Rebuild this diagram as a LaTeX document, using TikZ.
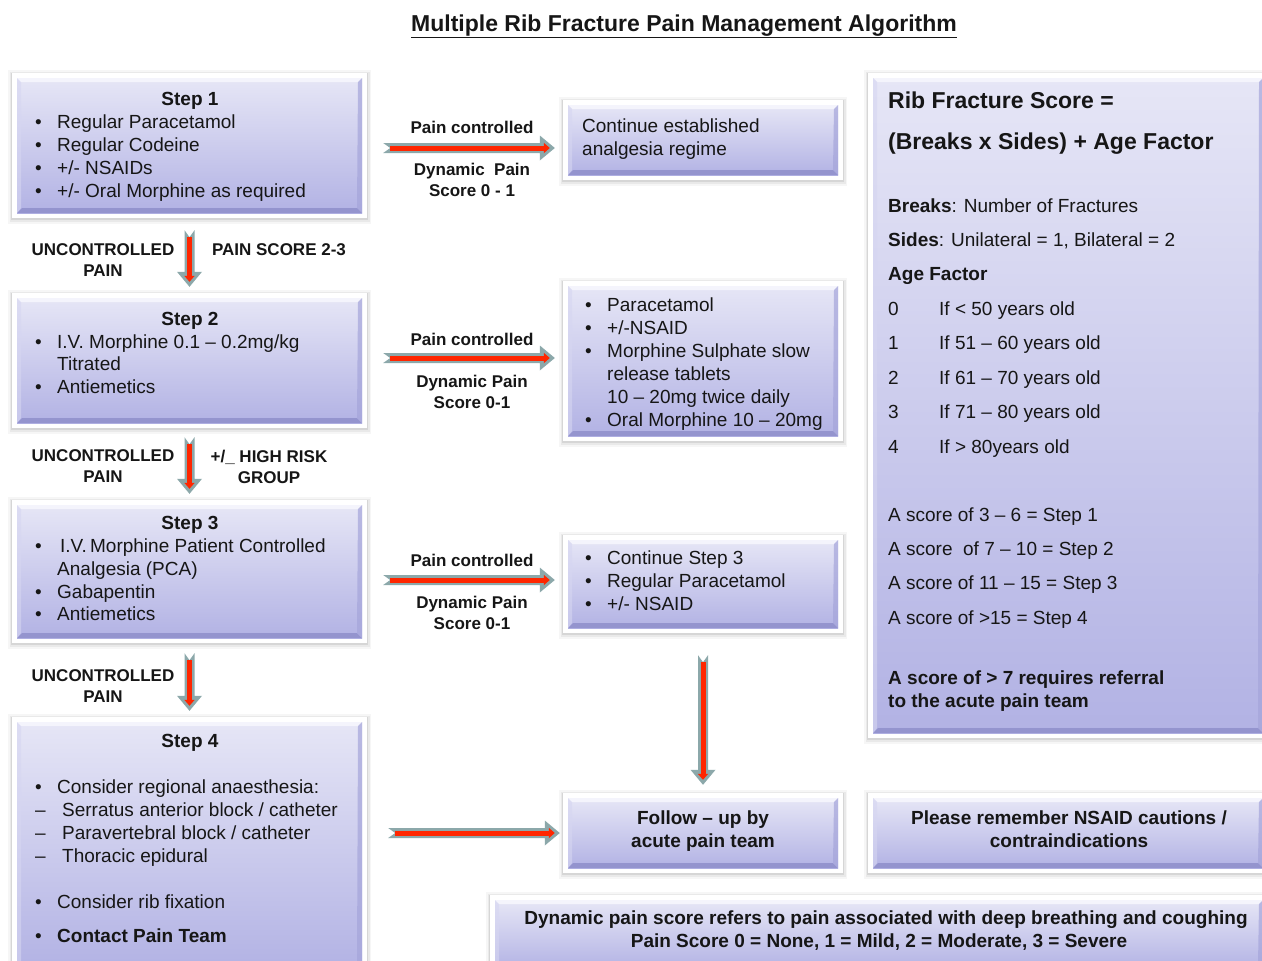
\documentclass[tikz,border=0pt]{standalone}
\usepackage{fontspec}
\setmainfont{Liberation Sans}
\usetikzlibrary{calc,arrows.meta}
\definecolor{boxtop}{RGB}{230,230,246}
\definecolor{boxbot}{RGB}{178,178,228}
\definecolor{edgeb}{RGB}{148,148,206}
\definecolor{edger}{RGB}{165,165,218}
\definecolor{edget}{RGB}{244,244,252}
\definecolor{edgel}{RGB}{214,214,241}
\definecolor{arrgray}{RGB}{140,168,170}
\definecolor{arrred}{RGB}{255,38,0}
\definecolor{ink}{RGB}{22,22,22}
\tikzset{
  txt/.style={inner sep=0pt, text=ink, font=\fontsize{19}{23}\selectfont, anchor=base west},
  ctxt/.style={inner sep=0pt, text=ink, font=\bfseries\fontsize{19}{23}\selectfont, anchor=base},
  big/.style={inner sep=0pt, text=ink, font=\bfseries\fontsize{23}{27}\selectfont, anchor=base west},
  lbl/.style={inner sep=0pt, text=ink, font=\bfseries\fontsize{17}{21}\selectfont, align=center},
  redline/.style={arrred, line width=5pt, -{Triangle[length=6pt,width=10pt]}}
}
% name, x1, y1, x2, y2 (outer frame, pixels, y downward)
\newcommand\bevbox[5]{%
  \fill[black,opacity=0.035] (#2-4,#3-3) rectangle (#4+4,#5+6);
  \fill[black,opacity=0.05] (#2-2.5,#3-1.5) rectangle (#4+2.5,#5+4);
  \fill[black,opacity=0.08] (#2-1,#3-0.5) rectangle (#4+1,#5+2);
  \fill[white] (#2,#3) rectangle (#4,#5);
  \shade[top color=boxtop,bottom color=boxbot] (#2+5,#3+5) rectangle (#4-5,#5-5);
  \fill[edget] (#2+5,#3+5) -- (#4-5,#3+5) -- (#4-9,#3+9) -- (#2+9,#3+9) -- cycle;
  \fill[edgeb] (#2+5,#5-5) -- (#4-5,#5-5) -- (#4-10,#5-10) -- (#2+10,#5-10) -- cycle;
  \fill[edgel,opacity=0.6] (#2+5,#3+5) -- (#2+9,#3+9) -- (#2+9,#5-10) -- (#2+5,#5-5) -- cycle;
  \fill[edger,opacity=0.7] (#4-5,#3+5) -- (#4-9,#3+9) -- (#4-10,#5-10) -- (#4-5,#5-5) -- cycle;
  \node[inner sep=0pt, minimum width=#4-#2, minimum height=#5-#3] (#1) at ({(#2+#4)/2},{(#3+#5)/2}) {};
}
% horizontal block arrow: tail, head
\newcommand\harrow[2]{%
  \fill[arrgray] ($(#1)+(0,-5)$) -- ($(#2)+(-15,-5)$) -- ($(#2)+(-15,-12.5)$) -- (#2)
    -- ($(#2)+(-15,12.5)$) -- ($(#2)+(-15,5)$) -- ($(#1)+(0,5)$) -- ($(#1)+(7,0)$) -- cycle;
  \draw[redline] ($(#1)+(7,0)$) -- ($(#2)+(-5,0)$);
}
% vertical block arrow: tail (top), head (bottom)
\newcommand\varrow[2]{%
  \fill[arrgray] ($(#1)+(-5,0)$) -- ($(#2)+(-5,-15)$) -- ($(#2)+(-12.5,-15)$) -- (#2)
    -- ($(#2)+(12.5,-15)$) -- ($(#2)+(5,-15)$) -- ($(#1)+(5,0)$) -- ($(#1)+(0,7)$) -- cycle;
  \draw[redline] ($(#1)+(0,7)$) -- ($(#2)+(0,-5)$);
}
\newcommand\bl[1]{\makebox[22pt][l]{\textbullet}#1}
\newcommand\dl[1]{\makebox[27pt][l]{--}#1}
\begin{document}
\begin{tikzpicture}[x=1pt,y=-1pt]
\useasboundingbox (0,0) rectangle (1262,961);
\clip (0,0) rectangle (1262,961);
\fill[white] (0,0) rectangle (1262,961);

% title
\node[inner sep=0pt, text=ink, font=\bfseries\fontsize{23}{27}\selectfont, anchor=base] (title) at (684,31) {\underline{Multiple Rib Fracture Pain Management Algorithm}};

% boxes
\bevbox{s1}{12}{73}{367}{218}
\bevbox{s2}{12}{293}{367}{428}
\bevbox{s3}{12}{500}{367}{643}
\bevbox{s4}{12}{717}{367}{975}
\bevbox{c1}{563}{100}{843}{180}
\bevbox{c2}{563}{281}{843}{441}
\bevbox{c3}{563}{535}{843}{633}
\bevbox{fu}{563}{793}{843}{873}
\bevbox{sc}{868}{73}{1268}{738}
\bevbox{ns}{868}{793}{1268}{873}
\bevbox{dy}{490}{895}{1268}{975}

% step 1
\node[ctxt] (s1h) at (190,105) {Step 1};
\node[txt] (s1a) at (35,128) {\bl{Regular Paracetamol}};
\node[txt] (s1b) at (35,151) {\bl{Regular Codeine}};
\node[txt] (s1c) at (35,174) {\bl{+/- NSAIDs}};
\node[txt] (s1d) at (35,197) {\bl{+/- Oral Morphine as required}};

% step 2
\node[ctxt] (s2h) at (190,325) {Step 2};
\node[txt] (s2a) at (35,348) {\bl{I.V. Morphine 0.1 -- 0.2mg/kg}};
\node[txt] (s2b) at (57,370) {Titrated};
\node[txt] (s2c) at (35,393) {\bl{Antiemetics}};

% step 3
\node[ctxt] (s3h) at (190,529) {Step 3};
\node[txt] (s3a) at (35,552) {\bl{\hspace{3pt}I.V.\,Morphine Patient Controlled}};
\node[txt] (s3b) at (57,575) {Analgesia (PCA)};
\node[txt] (s3c) at (35,598) {\bl{Gabapentin}};
\node[txt] (s3d) at (35,620) {\bl{Antiemetics}};

% step 4
\node[ctxt] (s4h) at (190,747) {Step 4};
\node[txt] (s4a) at (35,793) {\bl{Consider regional anaesthesia:}};
\node[txt] (s4b) at (35,816) {\dl{Serratus anterior block / catheter}};
\node[txt] (s4c) at (35,839) {\dl{Paravertebral block / catheter}};
\node[txt] (s4d) at (35,862) {\dl{Thoracic epidural}};
\node[txt] (s4e) at (35,908) {\bl{Consider rib fixation}};
\node[txt] (s4f) at (35,942) {\bl{\textbf{Contact Pain Team}}};

% right column boxes
\node[txt] (c1a) at (582,132) {Continue established};
\node[txt] (c1b) at (582,155) {analgesia regime};

\node[txt] (c2a) at (585,311) {\bl{Paracetamol}};
\node[txt] (c2b) at (585,334) {\bl{+/-NSAID}};
\node[txt] (c2c) at (585,357) {\bl{Morphine Sulphate slow}};
\node[txt] (c2d) at (607,380) {release tablets};
\node[txt] (c2e) at (607,403) {10 -- 20mg twice daily};
\node[txt] (c2f) at (585,426) {\bl{Oral Morphine 10 -- 20mg}};

\node[txt] (c3a) at (585,564) {\bl{Continue Step 3}};
\node[txt] (c3b) at (585,587) {\bl{Regular Paracetamol}};
\node[txt] (c3c) at (585,610) {\bl{+/- NSAID}};

\node[ctxt] (fua) at (703,824) {Follow -- up by};
\node[ctxt] (fub) at (703,847) {acute pain team};

% score box
\node[big] (sca) at (888,108) {Rib Fracture Score =};
\node[big] (scb) at (888,149) {(Breaks x Sides) + Age Factor};
\node[txt] (scc) at (888,212) {\textbf{Breaks}: Number of Fractures};
\node[txt] (scd) at (888,246) {\textbf{Sides}: Unilateral = 1, Bilateral = 2};
\node[txt] (sce) at (888,280) {\textbf{Age Factor}};
\foreach \n/\t [count=\i from 0] in {0/{If < 50 years old},1/{If 51 -- 60 years old},2/{If 61 -- 70 years old},3/{If 71 -- 80 years old},4/{If > 80years old}}{
  \node[txt] (agen\i) at (888,315+34.5*\i) {\n};
  \node[txt] (aget\i) at (939,315+34.5*\i) {\t};
}
\node[txt] (scf) at (888,521) {A score of 3 -- 6 = Step 1};
\node[txt] (scg) at (888,555) {A score\ \ of 7 -- 10 = Step 2};
\node[txt] (sch) at (888,589) {A score of 11 -- 15 = Step 3};
\node[txt] (sci) at (888,624) {A score of >15 = Step 4};
\node[txt] (scj) at (888,684) {\textbf{A score of > 7 requires referral}};
\node[txt] (sck) at (888,707) {\textbf{to the acute pain team}};

\node[ctxt] (nsa) at (1069,824) {Please remember NSAID cautions /};
\node[ctxt] (nsb) at (1069,847) {contraindications};

\node[ctxt] (dya) at (886,924) {Dynamic pain score refers to pain associated with deep breathing and coughing};
\node[ctxt] (dyb) at (879,947) {Pain Score 0 = None, 1 = Mild, 2 = Moderate, 3 = Severe};

% arrows
\coordinate (a1t) at ($(s1.east)+(16,2.5)$);
\coordinate (a1h) at ($(c1.west|-a1t)+(-8,0)$);
\harrow{a1t}{a1h}
\coordinate (a2t) at ($(s2.east)+(16,-2.5)$);
\coordinate (a2h) at ($(c2.west|-a2t)+(-8,0)$);
\harrow{a2t}{a2h}
\coordinate (a3t) at ($(s3.east)+(16,8.5)$);
\coordinate (a3h) at ($(c3.west|-a3t)+(-8,0)$);
\harrow{a3t}{a3h}
\coordinate (a4t) at ($(s4.east|-fu.west)+(21,0)$);
\coordinate (a4h) at ($(fu.west)+(-3,0)$);
\harrow{a4t}{a4h}

\coordinate (v1t) at ($(s1.south)+(0,12)$);
\coordinate (v1h) at ($(s2.north)+(0,-6)$);
\varrow{v1t}{v1h}
\coordinate (v2t) at ($(s2.south)+(0,9)$);
\coordinate (v2h) at ($(s3.north)+(0,-6)$);
\varrow{v2t}{v2h}
\coordinate (v3t) at ($(s3.south)+(0,10)$);
\coordinate (v3h) at ($(s4.north)+(0,-6)$);
\varrow{v3t}{v3h}
\coordinate (v4t) at ($(c3.south)+(0,22)$);
\coordinate (v4h) at ($(fu.north)+(0,-8)$);
\varrow{v4t}{v4h}

% arrow labels
\node[lbl] (l1a) at (472,127) {Pain controlled};
\node[lbl] (l1b) at (472,179.5) {Dynamic\ \ Pain\\Score 0 - 1};
\node[lbl] (l2a) at (472,339) {Pain controlled};
\node[lbl] (l2b) at (472,391.5) {Dynamic Pain\\Score 0-1};
\node[lbl] (l3a) at (472,560) {Pain controlled};
\node[lbl] (l3b) at (472,612.5) {Dynamic Pain\\Score 0-1};
\node[lbl] (u1) at (103,260.5) {UNCONTROLLED\\PAIN};
\node[lbl] (u1r) at (279,250) {PAIN SCORE 2-3};
\node[lbl] (u2) at (103,466.5) {UNCONTROLLED\\PAIN};
\node[lbl] (u2r) at (269,466.5) {+/\_ HIGH RISK\\GROUP};
\node[lbl] (u3) at (103,686.5) {UNCONTROLLED\\PAIN};
\end{tikzpicture}
\end{document}
